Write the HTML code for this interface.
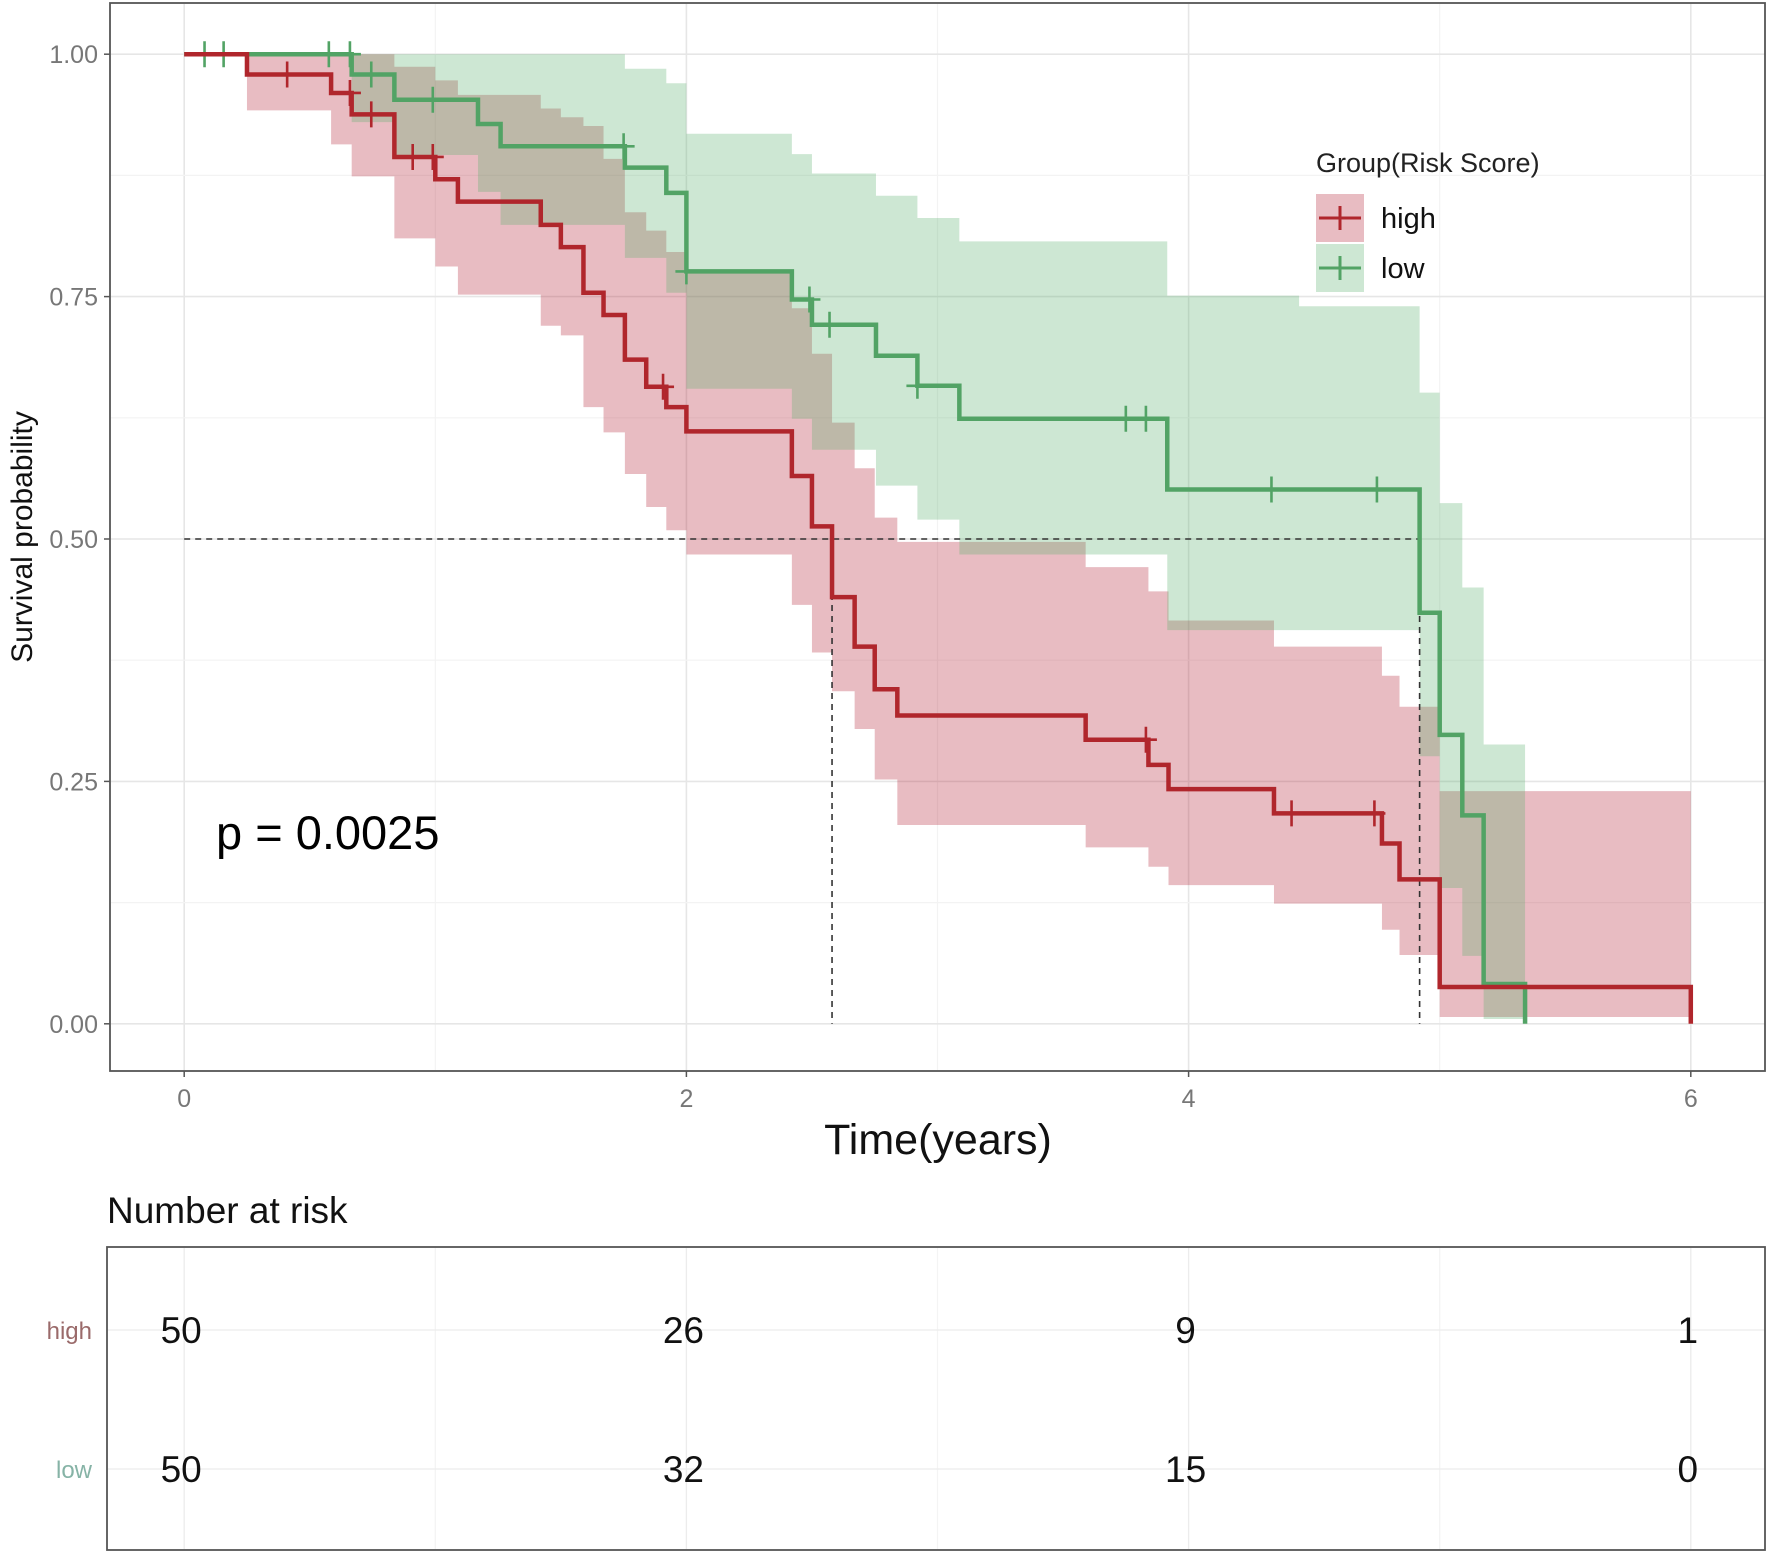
<!DOCTYPE html>
<html><head><meta charset="utf-8"><style>
html,body{margin:0;padding:0;background:#fff;}
svg{display:block;font-family:"Liberation Sans",Arial,sans-serif;}
</style></head><body>
<svg id="chart" width="1772" height="1555" viewBox="0 0 1772 1555"></svg>
<script>
const highTime=[0,.25,.585,.667,.837,1.0,1.09,1.42,1.50,1.59,1.67,1.755,1.84,1.92,2.0,2.42,2.50,2.58,2.67,2.75,2.84,3.59,3.84,3.92,4.34,4.77,4.84,5.0,6.0];
const highSurv=[1,.979,.960,.938,.894,.871,.848,.824,.801,.754,.731,.685,.657,.636,.611,.565,.513,.440,.389,.345,.318,.293,.267,.242,.217,.186,.149,.038,0];
const highLower=[1,.942,.907,.874,.81,.781,.752,.72,.71,.636,.61,.567,.533,.509,.484,.432,.383,.343,.304,.252,.205,.182,.162,.143,.124,.097,.071,.007,0];
const highUpper=[1,1,1,1,.987,.973,.958,.944,.935,.926,.892,.837,.818,.796,.774,.738,.691,.62,.573,.522,.497,.471,.446,.416,.389,.359,.327,.24,.24];
const highCensor=[.41,.66,.745,.91,.99,1.907,3.83,4.41,4.74];
const lowTime=[0,.667,.837,1.17,1.26,1.755,1.92,2.0,2.42,2.50,2.755,2.92,3.087,3.915,4.44,4.92,5.0,5.09,5.175,5.34];
const lowSurv=[1,.979,.953,.928,.905,.883,.857,.776,.747,.721,.689,.658,.624,.551,.551,.424,.298,.215,.041,0];
const lowLower=[1,.93,.896,.858,.824,.79,.754,.655,.624,.592,.555,.52,.484,.406,.406,.276,.14,.07,.005,0];
const lowUpper=[1,1,1,1,1,.985,.970,.918,.897,.877,.854,.831,.807,.751,.74,.651,.537,.45,.288,.288];
const lowCensor=[.081,.157,.576,.66,.745,.99,1.75,2.0,2.49,2.57,2.92,3.75,3.83,4.33,4.75];
const xTicks=[0,2,4,6];
const yTicks=[0,.25,.5,.75,1];
const yTickLabels=["0.00","0.25","0.50","0.75","1.00"];
const riskTimes=[0,2,4,6];
const riskHigh=[50,26,9,1];
const riskLow=[50,32,15,0];
const pValue="p = 0.0025";

const NS="http://www.w3.org/2000/svg";
const svg=document.getElementById('chart');
const X=t=>184.2+t*251.1;
const Y=s=>1023.8-s*969.6;
function mk(tag,attrs,parent){const e=document.createElementNS(NS,tag);for(const k in attrs)e.setAttribute(k,attrs[k]);(parent||svg).appendChild(e);return e;}

for(let t=0;t<=6;t+=1){const major=t%2===0;
 const g=mk('line',{x1:X(t),x2:X(t),y1:4,y2:1070,stroke:major?'#e6e6e6':'#f3f3f3','stroke-width':major?1.6:1.2});
 }
for(let s=0;s<=1.0001;s+=0.125){const major=Math.abs(s*4-Math.round(s*4))<1e-6;
 const g=mk('line',{x1:111,x2:1765,y1:Y(s),y2:Y(s),stroke:major?'#e6e6e6':'#f3f3f3','stroke-width':major?1.6:1.2});
 }

function band(T,L,U,color,name){
 let d='';
 for(let i=0;i<T.length-1;i++){
  d+=(i?' L':'M')+X(T[i])+','+Y(U[i])+' L'+X(T[i+1])+','+Y(U[i]);
 }
 for(let i=T.length-2;i>=0;i--){
  d+=' L'+X(T[i+1])+','+Y(L[i])+' L'+X(T[i])+','+Y(L[i]);
 }
 d+='Z';
 const p=mk('path',{d:d,fill:color,'fill-opacity':0.3,stroke:'none'});
 
}
band(highTime.slice(1),highLower.slice(1),highUpper.slice(1),'#b22234','high-ci-band');
band(lowTime.slice(1),lowLower.slice(1),lowUpper.slice(1),'#5baf6e','low-ci-band');

function median(T,S){for(let i=0;i<S.length;i++)if(S[i]<=0.5)return T[i];return null;}
const mh=median(highTime,highSurv),ml=median(lowTime,lowSurv);
const mx=Math.max(mh,ml);
let dl=mk('line',{x1:X(0),x2:X(mx),y1:Y(.5),y2:Y(.5),stroke:'#333','stroke-width':1.6,'stroke-dasharray':'6,5'});

[mh,ml].forEach(m=>{const v=mk('line',{x1:X(m),x2:X(m),y1:Y(.5),y2:Y(0),stroke:'#333','stroke-width':1.6,'stroke-dasharray':'6,5'});
 });

function curve(T,S,C,color,name){
 let d='M'+X(T[0])+','+Y(S[0]);
 for(let i=1;i<T.length;i++){d+=' L'+X(T[i])+','+Y(S[i-1])+' L'+X(T[i])+','+Y(S[i]);}
 const p=mk('path',{d:d,fill:'none',stroke:color,'stroke-width':4.5});
 
 C.forEach(c=>{let s=S[0];for(let i=0;i<T.length;i++)if(T[i]<=c)s=S[i];
  const m=mk('path',{d:'M'+(X(c)-11)+','+Y(s)+' h22 M'+X(c)+','+(Y(s)-13)+' v26',stroke:color,'stroke-width':2.6,fill:'none'});
  });
}
curve(lowTime,lowSurv,lowCensor,'#52a365','low');
curve(highTime,highSurv,highCensor,'#b0262c','high');

let pb=mk('rect',{x:110,y:3,width:1655,height:1068,fill:'none',stroke:'#555','stroke-width':1.8});


yTicks.forEach((v,i)=>{mk('line',{x1:104,x2:110,y1:Y(v),y2:Y(v),stroke:'#555','stroke-width':1.5});
 const t=mk('text',{x:98,y:Y(v)+9,'text-anchor':'end','font-size':25,fill:'#777'});t.textContent=yTickLabels[i];
 });
xTicks.forEach(v=>{mk('line',{x1:X(v),x2:X(v),y1:1071,y2:1077,stroke:'#555','stroke-width':1.5});
 const t=mk('text',{x:X(v),y:1107,'text-anchor':'middle','font-size':25,fill:'#777'});t.textContent=v;
 });
let xt=mk('text',{x:938,y:1154,'text-anchor':'middle','font-size':43,fill:'#111'});xt.textContent='Time(years)';

let yt=mk('text',{x:32,y:537,'text-anchor':'middle','font-size':30,fill:'#111',transform:'rotate(-90 32 537)'});yt.textContent='Survival probability';

let pv=mk('text',{x:216,y:849,'font-size':47,fill:'#000'});pv.textContent=pValue;


let lt=mk('text',{x:1316,y:172,'font-size':27,fill:'#222'});lt.textContent='Group(Risk Score)';

[['high','#b22234','#b0262c',194],['low','#5baf6e','#52a365',244]].forEach(([lab,fc,lc,y0])=>{
 const g=mk('g',{});
 mk('rect',{x:1316,y:y0,width:48,height:48,fill:fc,'fill-opacity':0.3},g);
 mk('path',{d:'M1319,'+(y0+24)+' h42 M1340,'+(y0+12)+' v24',stroke:lc,'stroke-width':3,fill:'none'},g);
 const t=mk('text',{x:1381,y:y0+34,'font-size':29,fill:'#111'},g);t.textContent=lab;});

let rt=mk('text',{x:107,y:1223,'font-size':37,fill:'#111'});rt.textContent='Number at risk';

const rowY=[1330,1469];
for(let t=0;t<=6;t++){mk('line',{x1:X(t),x2:X(t),y1:1248,y2:1549,stroke:t%2?'#f4f4f4':'#ececec','stroke-width':1.3});}
rowY.forEach(y=>mk('line',{x1:108,x2:1765,y1:y,y2:y,stroke:'#ececec','stroke-width':1.3}));
let rb=mk('rect',{x:107,y:1247,width:1658,height:303,fill:'none',stroke:'#555','stroke-width':1.8});

[['high','#9a6a6a',riskHigh,rowY[0]],['low','#86b3a6',riskLow,rowY[1]]].forEach(([lab,c,vals,y])=>{
 const l=mk('text',{x:92,y:y+9,'text-anchor':'end','font-size':24,fill:c});l.textContent=lab;
 
 vals.forEach((v,i)=>{const t=mk('text',{x:X(riskTimes[i])-3,y:y+13,'text-anchor':'middle','font-size':37,fill:'#111'});t.textContent=v;
  });
});
</script>
</body></html>
